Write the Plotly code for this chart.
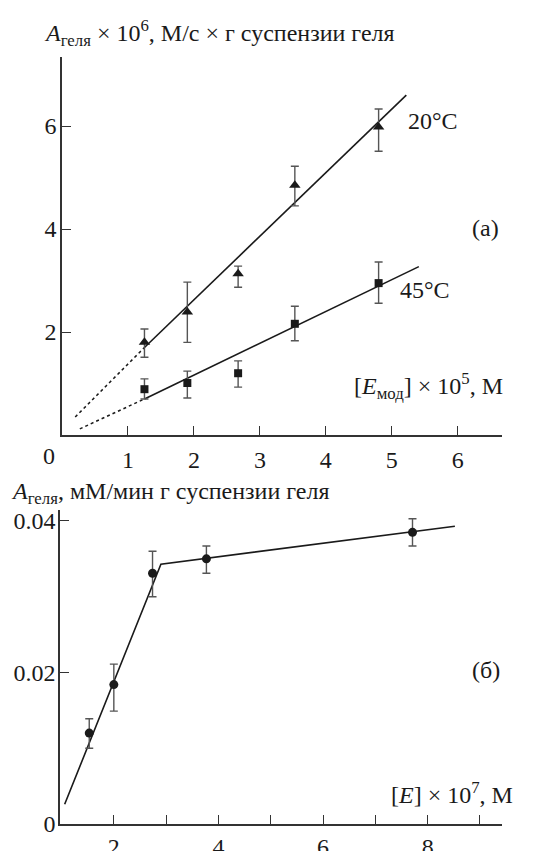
import plotly.graph_objects as go

# ---------- data: panel (a) ----------
conc_a = [1.25, 1.9, 2.67, 3.53, 4.8]
act_20 = [1.8, 2.39, 3.13, 4.85, 5.98]
err20_plus = [0.26, 0.58, 0.15, 0.37, 0.35]
err20_minus = [0.29, 0.59, 0.26, 0.40, 0.47]
act_45 = [0.89, 1.01, 1.2, 2.16, 2.95]
err45_plus = [0.20, 0.23, 0.24, 0.34, 0.41]
err45_minus = [0.19, 0.29, 0.27, 0.33, 0.39]
fit20_x = [1.25, 5.22]
fit20_y = [1.7, 6.6]
ext20_x = [0.2, 1.25]
ext20_y = [0.35, 1.7]
fit45_x = [1.25, 5.41]
fit45_y = [0.7, 3.27]
ext45_x = [0.27, 1.25]
ext45_y = [0.12, 0.7]
ticks_a_x = [1, 2, 3, 4, 5, 6]
ticks_a_y = [2, 4, 6]

# ---------- data: panel (б) ----------
conc_b = [1.53, 2.0, 2.74, 3.77, 7.71]
act_b = [0.0120, 0.0184, 0.0331, 0.0350, 0.0385]
errb_plus = [0.0019, 0.0027, 0.0029, 0.0017, 0.0018]
errb_minus = [0.0020, 0.0035, 0.0031, 0.0019, 0.0018]
fitb_x = [1.06, 2.9, 8.52]
fitb_y = [0.0026, 0.0343, 0.0393]
ticks_b_x = [2, 3, 4, 5, 6, 7, 8, 9]
ticks_b_xtext = ["2", "", "4", "", "6", "", "8", ""]
ticks_b_y = [0, 0.02, 0.04]
ticks_b_ytext = ["0", "0.02", "0.04"]

FONT = "Liberation Serif"
INK = "#1a1a1a"
ERR = "#555555"
FS = 24

fig = go.Figure()

def err(plus, minus):
    return dict(type="data", array=plus, arrayminus=minus, symmetric=False,
                color=ERR, thickness=1.4, width=4)

# panel (a)
fig.add_trace(go.Scatter(x=ext20_x, y=ext20_y, mode="lines",
                         line=dict(color=INK, width=1.5, dash="dot"), xaxis="x", yaxis="y"))
fig.add_trace(go.Scatter(x=ext45_x, y=ext45_y, mode="lines",
                         line=dict(color=INK, width=1.5, dash="dot"), xaxis="x", yaxis="y"))
fig.add_trace(go.Scatter(x=fit20_x, y=fit20_y, mode="lines",
                         line=dict(color=INK, width=1.6), xaxis="x", yaxis="y"))
fig.add_trace(go.Scatter(x=fit45_x, y=fit45_y, mode="lines",
                         line=dict(color=INK, width=1.6), xaxis="x", yaxis="y"))
fig.add_trace(go.Scatter(x=conc_a, y=act_20, mode="markers",
                         marker=dict(symbol="triangle-up", size=10, color=INK),
                         error_y=err(err20_plus, err20_minus), xaxis="x", yaxis="y"))
fig.add_trace(go.Scatter(x=conc_a, y=act_45, mode="markers",
                         marker=dict(symbol="square", size=8, color=INK),
                         error_y=err(err45_plus, err45_minus), xaxis="x", yaxis="y"))

# panel (б)
fig.add_trace(go.Scatter(x=fitb_x, y=fitb_y, mode="lines",
                         line=dict(color=INK, width=1.6), xaxis="x2", yaxis="y2"))
fig.add_trace(go.Scatter(x=conc_b, y=act_b, mode="markers",
                         marker=dict(symbol="circle", size=9, color=INK),
                         error_y=err(errb_plus, errb_minus), xaxis="x2", yaxis="y2"))

axis_common = dict(showline=True, linecolor="#333333", linewidth=1.5, ticks="inside",
                   ticklen=9, tickwidth=1.3, tickcolor="#333333", showgrid=False,
                   zeroline=False, automargin=False,
                   tickfont=dict(family=FONT, size=FS, color=INK))

fig.update_layout(
    width=545, height=851,
    margin=dict(l=0, r=0, t=0, b=0, autoexpand=False),
    paper_bgcolor="white", plot_bgcolor="white",
    showlegend=False,
    font=dict(family=FONT, size=FS, color=INK),
    xaxis=dict(domain=[0.1138, 0.921], range=[0, 6.67], tickvals=ticks_a_x,
               anchor="y", ticklabelstandoff=2, **axis_common),
    yaxis=dict(domain=[0.4888, 0.933], range=[0, 7.34], tickvals=ticks_a_y,
               anchor="x", ticklabelstandoff=-1, **axis_common),
    xaxis2=dict(domain=[0.110, 0.921], range=[0.97, 9.42], tickvals=ticks_b_x,
                ticktext=ticks_b_xtext, anchor="y2", ticklabelstandoff=0, **axis_common),
    yaxis2=dict(domain=[0.0317, 0.4007], range=[0, 0.04145], tickvals=ticks_b_y,
                ticktext=ticks_b_ytext, anchor="x2", ticklabelstandoff=-2, **axis_common),
)

def ann(text, x, y, xanchor="left", yanchor="middle", size=FS):
    fig.add_annotation(text=text, x=x / 545, y=1 - y / 851, xref="paper", yref="paper",
                       xanchor=xanchor, yanchor=yanchor, showarrow=False,
                       font=dict(family=FONT, size=size, color=INK))

ann("<i>A</i><sub>геля</sub> × 10<sup>6</sup>, М/с × г суспензии геля", 42, 33)
ann("20°C", 406, 121)
ann("(a)", 470, 228)
ann("45°C", 398, 290)
ann("[<i>E</i><sub>мод</sub>] × 10<sup>5</sup>, М", 352, 386)
ann("0", 49, 456, xanchor="center")
ann("<i>A</i><sub>геля</sub>, мМ/мин г суспензии геля", 9, 493)
ann("(б)", 470, 670)
ann("[<i>E</i>] × 10<sup>7</sup>, М", 389, 793)

fig.write_html("out.html")
